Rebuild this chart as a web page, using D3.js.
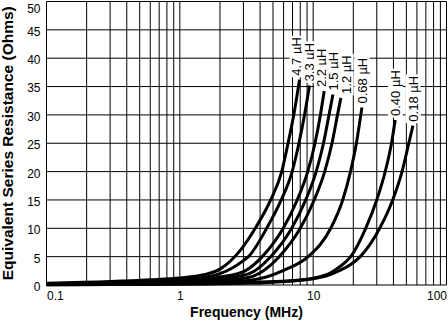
<!DOCTYPE html>
<html>
<head>
<meta charset="utf-8">
<script src="https://cdn.jsdelivr.net/npm/d3@7"></script>
<style>
  html, body { margin: 0; padding: 0; background: #fff; }
  svg { display: block; font-family: "Liberation Sans", Arial, Helvetica, sans-serif; }
</style>
</head>
<body>
<svg id="chart" width="448" height="326"></svg>
<script>
// Axis ticks
const freqTicks = [0.1, 1, 10, 100];                          // MHz
const esrTicks = [0, 5, 10, 15, 20, 25, 30, 35, 40, 45, 50];   // Ohms

// Inductor values, one per curve
const inductorLabels = ["4.7 µH", "3.3 µH", "2.2 µH", "1.5 µH", "1.2 µH", "0.68 µH", "0.40 µH", "0.18 µH"];

// ESR vs frequency, [MHz, Ohms]
const esr4u7  = [[0.1,0.3],[0.3,0.6],[0.6,0.92],[1,1.25],[1.5,1.8],[2,2.8],[2.84,6.1],[3.68,10],[4.80,15],[5.81,20],[6.48,25],[7.15,30],[7.90,36.2]];
const esr3u3  = [[0.1,0.22],[0.3,0.46],[0.6,0.72],[1,0.95],[1.5,1.35],[2,2.0],[3,4.3],[3.27,5],[4.48,10],[5.76,15],[6.96,20],[7.82,25],[8.61,30],[9.39,35.2]];
const esr2u2  = [[0.1,0.17],[0.3,0.36],[0.6,0.57],[1,0.78],[2,1.4],[3.09,2.5],[4.15,5],[5.96,10],[7.59,15],[9.10,20],[10.32,25],[11.33,30],[12.10,34.2]];
const esr1u5  = [[0.1,0.13],[0.3,0.29],[0.6,0.47],[1,0.63],[2,1.1],[3.31,2.0],[4.80,5],[6.90,10],[8.79,15],[10.54,20],[11.95,25],[13.15,30],[14.06,33.6]];
const esr1u2  = [[0.1,0.11],[0.3,0.24],[0.6,0.39],[1,0.53],[2,0.8],[3.37,1.4],[4.15,2.4],[5.56,5],[8.00,10],[10.18,15],[12.20,20],[13.84,25],[15.22,30],[16.14,33]];
const esr0u68 = [[0.1,0.08],[0.3,0.17],[1,0.33],[2,0.5],[3.37,0.85],[4,1.15],[6,2.6],[9.18,5],[13.54,10],[16.66,15],[19.05,20],[21.10,25],[22.77,30],[23.21,31.3]];
const esr0u40 = [[0.1,0.05],[0.3,0.1],[1,0.2],[3,0.4],[5,0.6],[7,0.8],[10,1.2],[13.42,2.1],[16,3.3],[19.12,5],[24.77,10],[29.96,15],[34.70,20],[38.68,25],[41.24,29.1]];
const esr0u18 = [[0.1,0.04],[0.3,0.08],[1,0.15],[3,0.3],[5,0.5],[7,0.7],[10,1.1],[13.42,1.85],[16,2.6],[19.12,3.6],[22.54,5],[31.55,10],[39.49,15],[46.39,20],[52.15,25],[55.98,28.1]];

const series = [esr4u7, esr3u3, esr2u2, esr1u5, esr1u2, esr0u68, esr0u40, esr0u18];

const svg = d3.select("#chart");

const x = d3.scaleLog().domain([0.1, 100]).range([46.5, 446.5]);
const y = d3.scaleLinear().domain([0, 50]).range([285, 1.5]);

// Log grid: every integer multiple within each decade
const grid = svg.append("g").attr("class", "grid")
  .attr("stroke", "#000").attr("stroke-width", 1);

grid.selectAll("line.v").data(x.ticks()).join("line")
  .attr("class", "v")
  .attr("x1", d => x(d)).attr("x2", d => x(d))
  .attr("y1", y(0)).attr("y2", y(50));

grid.selectAll("line.h").data(esrTicks).join("line")
  .attr("class", "h")
  .attr("x1", x(0.1)).attr("x2", x(100))
  .attr("y1", d => y(d)).attr("y2", d => y(d));

// Curves
const line = d3.line()
  .x(d => x(d[0]))
  .y(d => y(d[1]))
  .curve(d3.curveMonotoneX);

svg.append("g").attr("class", "curves")
  .selectAll("path").data(series).join("path")
  .attr("d", line)
  .attr("fill", "none")
  .attr("stroke", "#000")
  .attr("stroke-width", 3);

// Curve labels: rotated, just above each curve's end, spread apart where crowded
const labelGap = 12.3;
const ends = series.map((s, i) => {
  const last = s[s.length - 1];
  return { i, x: x(last[0]), y: y(last[1]) };
}).sort((a, b) => a.x - b.x);

let clusters = ends.map(e => ({ members: [e], center: e.x }));
let merged = true;
while (merged) {
  merged = false;
  for (let k = 0; k < clusters.length - 1; k++) {
    const a = clusters[k], b = clusters[k + 1];
    const aRight = a.center + (a.members.length - 1) * labelGap / 2;
    const bLeft = b.center - (b.members.length - 1) * labelGap / 2;
    if (bLeft - aRight < labelGap) {
      const members = a.members.concat(b.members);
      clusters.splice(k, 2, { members, center: d3.mean(members, m => m.x) });
      merged = true;
      break;
    }
  }
}
clusters.forEach(c => c.members.forEach((m, j) => {
  m.lx = c.center + (j - (c.members.length - 1) / 2) * labelGap;
}));
const labelPos = new Map(ends.map(e => [e.i, e]));

const labels = svg.append("g").attr("class", "curve-labels")
  .selectAll("g").data(series).join("g")
  .attr("transform", (d, i) => {
    const p = labelPos.get(i);
    return `translate(${p.lx},${p.y - 4}) rotate(-90)`;
  });

labels.append("rect").attr("fill", "#fff");
labels.append("text")
  .attr("font-size", 13)
  .attr("text-anchor", "start")
  .attr("dy", "0.36em")
  .text((d, i) => inductorLabels[i]);

labels.each(function () {
  const g = d3.select(this);
  const bb = g.select("text").node().getBBox();
  g.select("rect")
    .attr("x", bb.x - 1.5).attr("y", bb.y)
    .attr("width", bb.width + 3).attr("height", bb.height);
});

// Y axis
const yAxis = svg.append("g")
  .attr("transform", `translate(${x(0.1)},0)`)
  .call(d3.axisLeft(y).tickValues(esrTicks).tickSize(0).tickPadding(6));
yAxis.select(".domain").remove();
yAxis.selectAll("text")
  .attr("font-size", 12)
  .attr("font-family", null)
  .attr("fill", "#000")
  .attr("dy", d => d === 50 ? "0.88em" : "0.45em");

// X axis
const xAxis = svg.append("g")
  .attr("transform", `translate(0,${y(0)})`)
  .call(d3.axisBottom(x).tickValues(freqTicks).tickFormat(d3.format("~g")).tickSize(0).tickPadding(6.5));
xAxis.select(".domain").remove();
xAxis.selectAll("text")
  .attr("font-size", 12)
  .attr("font-family", null)
  .attr("fill", "#000")
  .attr("text-anchor", d => d === 0.1 ? "start" : d === 100 ? "end" : "middle");

// Axis titles
svg.append("text")
  .attr("x", (x(0.1) + x(100)) / 2)
  .attr("y", 317)
  .attr("text-anchor", "middle")
  .attr("font-size", 14)
  .attr("font-weight", "bold")
  .text("Frequency (MHz)");

svg.append("text")
  .attr("transform", `translate(13,${(y(0) + y(50)) / 2}) rotate(-90)`)
  .attr("text-anchor", "middle")
  .attr("font-size", 15.5)
  .attr("font-weight", "bold")
  .text("Equivalent Series Resistance (Ohms)");
</script>
</body>
</html>
